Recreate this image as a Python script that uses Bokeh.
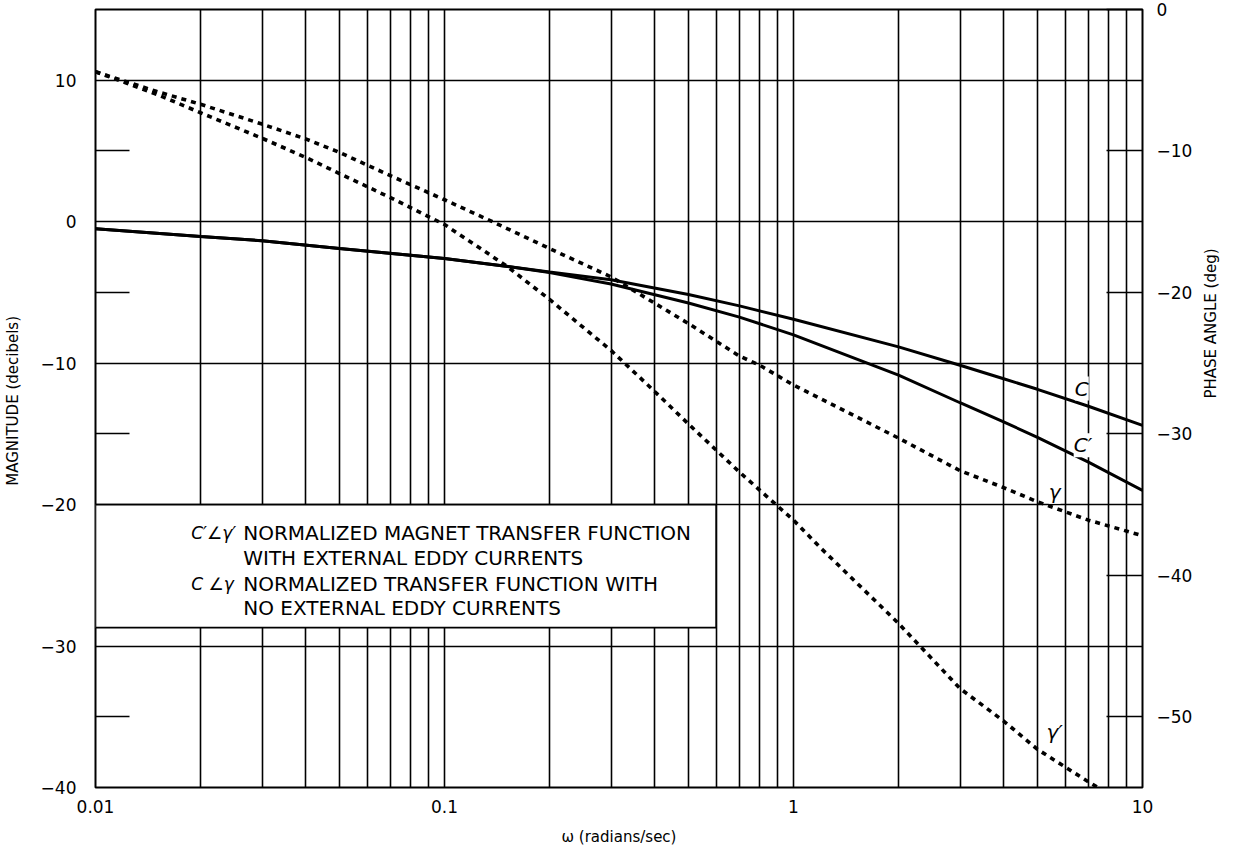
import math
from bokeh.plotting import figure
from bokeh.models import (Range1d, LinearAxis, FixedTicker, BoxAnnotation, Label)
from bokeh.embed import file_html
from bokeh.resources import INLINE

# ---------------- data ----------------
# magnitude curves (dB)
w_mag = [0.01, 0.02, 0.03, 0.05, 0.1, 0.15, 0.2, 0.3, 0.5, 0.7, 1, 2, 3, 4, 5, 7, 10]
mag_C = [-0.5, -1.05, -1.35, -1.9, -2.6, -3.15, -3.55, -4.1, -5.15, -5.95, -6.9,
         -8.85, -10.15, -11.1, -11.85, -13.05, -14.4]
mag_Cp = [-0.5, -1.05, -1.35, -1.9, -2.6, -3.15, -3.6, -4.4, -5.75, -6.75, -8.0,
          -10.85, -12.8, -14.15, -15.25, -17.0, -19.0]

# phase curves (deg)
w_gam = [0.01, 0.015, 0.02, 0.03, 0.04, 0.05, 0.07, 0.1, 0.14, 0.2, 0.3, 0.5, 0.7,
         0.8, 1, 2, 3, 4, 5, 7, 10]
ph_gam = [-4.4, -5.8, -6.7, -8.1, -9.15, -10.1, -11.75, -13.45, -15.1, -16.9, -18.9,
          -22.2, -24.5, -25.15, -26.55, -30.3, -32.6, -33.8, -34.8, -36.1, -37.2]
w_gamp = [0.01, 0.015, 0.02, 0.03, 0.04, 0.05, 0.07, 0.1, 0.15, 0.2, 0.3, 0.4, 0.5,
          0.7, 0.9, 1, 1.2, 2, 3, 4, 5, 7, 7.45]
ph_gamp = [-4.4, -6.0, -7.3, -9.1, -10.45, -11.6, -13.3, -15.2, -18.1, -20.5, -24.1,
           -27.0, -29.3, -32.7, -35.1, -36.1, -38.1, -43.4, -48.0, -50.3, -52.3,
           -54.6, -55.0]

x_major = [0.01, 0.1, 1, 10]
x_major_labels = ["0.01", "0.1", "1", "10"]
x_grid = [m * d for d in (0.01, 0.1, 1) for m in range(1, 10)] + [10]
mag_ticks = [10, 0, -10, -20, -30, -40]
mag_labels = ["10", "0", "\u221210", "\u221220", "\u221230", "\u221240"]
mag_minor = [5, -5, -15, -25, -35]
phase_ticks = [0, -10, -20, -30, -40, -50]
phase_labels = ["0", "\u221210", "\u221220", "\u221230", "\u221240", "\u221250"]

FONT = "DejaVu Sans"

p = figure(x_axis_type="log", x_range=Range1d(0.01, 10), y_range=Range1d(-40, 15),
           frame_width=1047, frame_height=778, output_backend="svg",
           toolbar_location=None, min_border_left=91, min_border_right=88,
           min_border_top=9, min_border_bottom=60)
p.extra_y_ranges = {"phase": Range1d(-55, 0)}
p.background_fill_color = "white"
p.border_fill_color = "white"
p.outline_line_color = "black"
p.outline_line_width = 2
p.outline_line_alpha = 1

# grids
p.xgrid.ticker = FixedTicker(ticks=x_grid)
p.xgrid.grid_line_color = "black"
p.xgrid.grid_line_width = 1.6
p.ygrid.ticker = FixedTicker(ticks=mag_ticks)
p.ygrid.grid_line_color = "black"
p.ygrid.grid_line_width = 1.6

# bottom axis
xa = p.xaxis[0]
xa.ticker = FixedTicker(ticks=x_major)
xa.major_label_overrides = {v: s for v, s in zip(x_major, x_major_labels)}
xa.major_tick_in = 0
xa.major_tick_out = 0
xa.minor_tick_in = 0
xa.minor_tick_out = 0
xa.axis_line_color = None
xa.major_label_standoff = 12
xa.major_label_text_font = FONT
xa.major_label_text_font_size = "17px"
xa.major_label_text_color = "black"
xa.axis_label = "\u03c9 (radians/sec)"
xa.axis_label_text_font = FONT
xa.axis_label_text_font_size = "15px"
xa.axis_label_text_font_style = "normal"
xa.axis_label_text_color = "black"
xa.axis_label_standoff = 12

# left axis
ya = p.yaxis[0]
ya.ticker = FixedTicker(ticks=mag_ticks, minor_ticks=mag_minor)
ya.major_label_overrides = {v: s for v, s in zip(mag_ticks, mag_labels)}
ya.major_tick_in = 0
ya.major_tick_out = 0
ya.minor_tick_in = 34
ya.minor_tick_out = 0
ya.minor_tick_line_width = 1.6
ya.minor_tick_line_color = "black"
ya.axis_line_color = None
ya.major_label_standoff = 19
ya.major_label_text_font = FONT
ya.major_label_text_font_size = "17px"
ya.major_label_text_color = "black"
ya.axis_label = "MAGNITUDE  (decibels)"
ya.axis_label_text_font = FONT
ya.axis_label_text_font_size = "15px"
ya.axis_label_text_font_style = "normal"
ya.axis_label_text_color = "black"
ya.axis_label_standoff = 16

# right axis (phase)
ra = LinearAxis(y_range_name="phase", ticker=FixedTicker(ticks=phase_ticks))
ra.major_label_overrides = {v: s for v, s in zip(phase_ticks, phase_labels)}
ra.major_tick_in = 36
ra.major_tick_out = 0
ra.major_tick_line_width = 1.6
ra.minor_tick_in = 0
ra.minor_tick_out = 0
ra.axis_line_color = None
ra.major_label_standoff = 14
ra.major_label_text_font = FONT
ra.major_label_text_font_size = "17px"
ra.major_label_text_color = "black"
ra.axis_label = "PHASE ANGLE  (deg)"
ra.axis_label_text_font = FONT
ra.axis_label_text_font_size = "15px"
ra.axis_label_text_font_style = "normal"
ra.axis_label_text_color = "black"
ra.axis_label_standoff = 16
try:
    ra.axis_label_orientation = math.pi / 2
except Exception:
    pass
p.add_layout(ra, "right")

# curves
p.line(w_mag, mag_C, line_color="black", line_width=3)
p.line(w_mag, mag_Cp, line_color="black", line_width=3)
p.line(w_gam, ph_gam, y_range_name="phase", line_color="black", line_width=3.6,
       line_dash="5 5")
p.line(w_gamp, ph_gamp, y_range_name="phase", line_color="black", line_width=3.6,
       line_dash="5 5")

# curve labels
for txt, x, y, rng in [("C", 6.7, -11.8, "default"), ("C\u2032", 6.75, -15.8, "default"),
                       ("\u03b3", 5.6, -34.1, "phase"), ("\u03b3\u2032", 5.6, -51.1, "phase")]:
    p.add_layout(Label(x=x, y=y, text=txt, y_range_name=rng, text_font=FONT,
                       text_font_size="20px", text_font_style="italic",
                       text_color="black",
                       text_align="center", text_baseline="middle",
                       background_fill_color="white", background_fill_alpha=1))

# legend box
box = BoxAnnotation(left=0.01, right=0.6, top=-20, bottom=-28.7,
                    fill_color="white", fill_alpha=1, line_color="black",
                    line_width=1.6, line_alpha=1)
p.add_layout(box)

legend_rows = [("C\u2032\u2220\u03b3\u2032", "NORMALIZED MAGNET TRANSFER FUNCTION", -22.0),
               ("", "WITH EXTERNAL EDDY CURRENTS", -23.8),
               ("C \u2220\u03b3", "NORMALIZED TRANSFER FUNCTION WITH", -25.6),
               ("", "NO EXTERNAL EDDY CURRENTS", -27.3)]
for sym, txt, y in legend_rows:
    if sym:
        p.add_layout(Label(x=0.0188, y=y, text=sym, text_font=FONT,
                           text_font_size="17px", text_font_style="italic",
                           text_color="black", text_baseline="middle"))
    p.add_layout(Label(x=0.0265, y=y, text=txt, text_font=FONT,
                       text_font_size="20px", text_color="black",
                       text_baseline="middle"))

open("out.html", "w").write(file_html(p, INLINE))
